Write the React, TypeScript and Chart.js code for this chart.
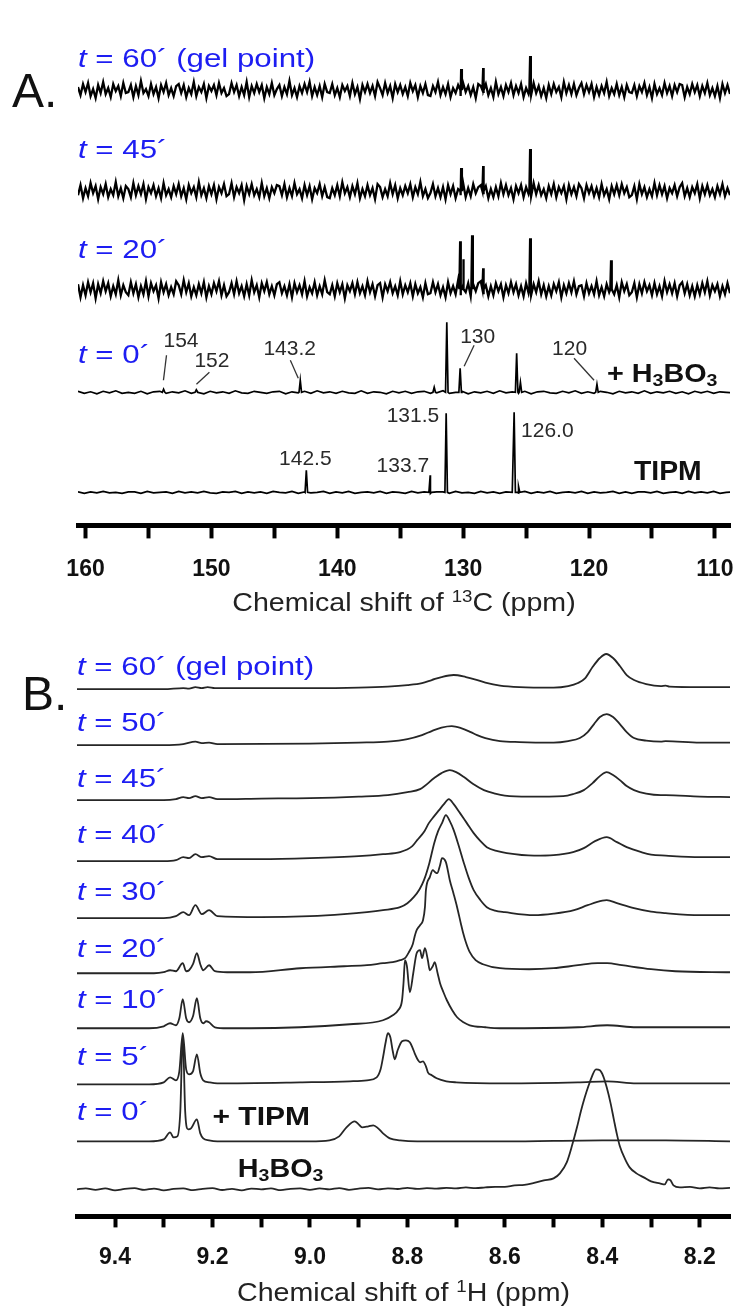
import React, { useEffect, useRef } from 'react';
import { Chart, registerables } from 'chart.js';
Chart.register(...registerables);

const FAM = "'Liberation Sans', Arial, Helvetica, sans-serif";
const BLUE = '#1d1df2';

/* ---------------- Panel A : 13C ---------------- */
const A_MIN = 108.8;
const A_MAX = 160.6;
const A_TICKS = [110, 115, 120, 125, 130, 135, 140, 145, 150, 155, 160];
const A_TICK_LABELS = ['110', '', '120', '', '130', '', '140', '', '150', '', '160'];
const A_DENSE_STEP = 0.2;
const A_LOW_STEP = 0.5;
// stacking offsets of the five traces (t=60, 45, 20, 0, TIPM)
const A_OFFSETS = [435, 334, 236, 133, 33];

const NOISE_60 = [
  3,-5,6,-2,7,-6,1,-8,5,-3,8,-4,2,-7,6,-1,4,-6,7,-3,
  -2,5,-7,4,-5,9,-3,1,-6,6,-4,3,-8,5,-2,7,-5,2,-6,4,
  6,-3,5,-7,2,-4,8,-6,3,-2,6,-8,4,-1,5,-5,7,-3,2,-6,
  -4,7,-2,5,-6,3,-5,8,-7,4,-3,6,-2,5,-8,3,-4,7,-5,1,
  5,-6,3,-4,9,-5,2,-7,4,-3,6,-2,8,-6,3,-5,4,-7,6,-2,
  -3,6,-5,2,-7,5,-1,4,-6,7,-4,3,-9,5,-2,6,-3,4,-6,8,
  2,-5,7,-3,4,-8,6,-2,5,-4,3,-6,7,-1,5,-7,4,-3,6,-5,
  -6,4,-2,8,-5,3,-4,6,-7,2,-3,5,-6,7,-2,4,-5,3,-8,6,
  4,-3,6,-5,2,-7,8,-4,3,-6,5,-2,7,-5,4,-3,6,-7,2,-4,
  -5,7,-3,4,-6,2,-8,5,-4,6,-2,3,-7,8,-3,5,-4,6,-5,2,
  7,-4,5,-2,6,-7,3,-5,4,-3,8,-6,2,-4,6,-5,3,-7,5,-2,
  -3,5,-6,4,-2,7,-5,3,-8,6,-4,2,-5,7,-3,4,-6,5,-2,6,
  5,-7,3,-4,6,-2,5,-6,4,-3,7,-5,2,-6,4,-8,6,-3,5,-4,
];
const NOISE_45 = [
  -4,6,-7,3,-5,8,-2,5,-8,4,-3,7,-6,2,-4,9,-5,3,-7,5,
  2,-6,8,-4,5,-3,7,-8,4,-2,6,-5,3,-7,8,-4,2,-6,5,-3,
  7,-5,3,-8,6,-2,4,-6,9,-4,3,-7,5,-3,6,-8,4,-2,7,-5,
  -3,8,-6,4,-2,6,-9,5,-3,7,-4,2,-6,8,-5,3,-7,4,-2,6,
  5,-4,7,-6,3,-5,8,-3,2,-7,6,-4,5,-8,3,-2,7,-5,4,-6,
  -7,3,-4,6,-5,9,-2,4,-6,5,-3,8,-7,2,-5,6,-4,3,-8,7,
  4,-6,2,-5,8,-3,6,-7,3,-4,5,-2,7,-6,4,-3,9,-5,2,-7,
  -2,7,-5,3,-6,4,-8,6,-3,5,-7,2,-4,8,-6,3,-5,7,-2,4,
  6,-3,5,-7,2,-6,4,-5,8,-3,6,-4,3,-8,5,-2,6,-6,4,-3,
  -5,8,-3,6,-4,2,-7,5,-3,7,-6,4,-2,5,-8,6,-3,4,-5,7,
  3,-7,6,-2,5,-5,3,-6,7,-4,2,-8,5,-3,6,-4,7,-2,4,-6,
  -4,5,-8,7,-3,4,-6,2,-5,8,-4,6,-3,5,-7,3,-2,6,-5,4,
  8,-5,3,-6,4,-2,7,-7,5,-3,6,-4,2,-6,5,-3,7,-5,3,-4,
];
const NOISE_20 = [
  5,-8,4,-6,7,-3,6,-9,5,-4,8,-2,6,-7,3,-5,9,-6,4,-3,
  -6,7,-4,5,-8,3,-5,8,-7,6,-2,4,-9,7,-3,5,-6,2,-5,8,
  4,-5,9,-3,6,-7,2,-6,5,-4,7,-8,3,-5,6,-2,8,-6,4,-7,
  -3,6,-5,8,-4,3,-7,5,-6,9,-3,4,-8,6,-2,7,-5,3,-6,5,
  7,-4,3,-6,5,-8,6,-3,4,-5,8,-7,2,-4,7,-6,3,-5,9,-3,
  -5,4,-7,6,-3,5,-9,4,-2,6,-5,7,-4,3,-6,8,-3,5,-7,4,
  6,-8,5,-2,7,-4,3,-6,8,-5,4,-3,6,-7,5,-4,2,-8,6,-5,
  -4,7,-3,5,-6,2,-8,7,-4,3,-5,9,-6,4,-3,6,-7,5,-2,6,
  8,-5,4,-7,3,-6,6,-2,5,-8,4,-4,7,-3,5,-6,3,-7,6,-4,
  -6,5,-3,8,-5,4,-7,3,-6,5,-2,7,-8,4,-4,6,-3,8,-5,3,
  4,-7,6,-4,3,-5,8,-6,2,-7,5,-3,6,-5,4,-8,7,-2,5,-6,
  -3,6,-8,5,-4,7,-2,4,-6,6,-5,3,-7,8,-3,5,-4,6,-7,4,
  7,-4,5,-6,3,-7,4,-5,6,-3,8,-6,4,-2,5,-7,3,-5,6,-4,
];
const NOISE_0 = [
  1,-1,0.5,-1.5,1,-0.5,1.5,-1,0,-1,1,-1.5,0.5,1,-1,0.5,-0.5,1.5,-1,0.5,
  -1.5,1,-0.5,0.5,-1,1.5,-0.5,-1,1,0,-1,0.5,1,-1.5,0.5,-0.5,1,-1,1.5,-0.5,
  0.5,-1,1,-0.5,-1,1.5,-1,0.5,0,-1.5,1,-0.5,1,-1,0.5,1,-1,-0.5,1.5,-1,
  0,1,-1.5,0.5,-0.5,1,-1,1.5,-0.5,0.5,-1,1,-1.5,0.5,1,-0.5,-1,1,-0.5,1.5,
  -1,0.5,-1,1,0,-1.5,1,-0.5,0.5,-1,1.5,-1,0.5,-0.5,1,-1,0.5,-1.5,1,-0.5,
  1,-1,0.5,0,-0.5,
];
const NOISE_TIPM = [
  0.5,-1,0.5,-0.5,1,-0.5,0,-1,0.5,0.5,-1,1,-0.5,0,0.5,-1,1,-0.5,0.5,-0.5,
  1,-0.5,-1,0.5,0,1,-1,0.5,-0.5,0.5,-1,1,0,-0.5,1,-1,0.5,-0.5,0,1,
  -1,0.5,-0.5,1,-1,0,0.5,-0.5,1,-1,0.5,0,-1,1,-0.5,0.5,-1,0.5,0.5,-1,
  1,-0.5,0,-1,1,-0.5,0.5,-1,0.5,0,-0.5,1,-1,0.5,-0.5,1,-1,0,0.5,-0.5,
  1,-1,0.5,-0.5,0,1,-1,0.5,-1,0.5,0.5,-0.5,1,-1,0,0.5,-1,1,-0.5,0.5,
  -0.5,1,-1,0,0.5,
];
// peaks [ppm, height]
const PEAKS_60 = [[130.16, 21], [128.41, 22], [124.68, 34]];
const PEAKS_45 = [[130.16, 23], [128.41, 25], [124.68, 42]];
const PEAKS_20 = [[130.24, 48], [130.0, 30], [129.29, 54], [128.41, 21], [124.68, 51], [118.25, 29]];
const PEAKS_0 = [[153.8, 3], [151.2, 2.5], [142.94, 12], [132.3, 5], [131.3, 70], [130.24, 24], [125.75, 39], [125.45, 10], [119.37, 8]];
const PEAKS_TIPM = [[142.46, 22], [132.62, 17], [131.35, 79], [125.95, 80], [125.6, 6]];

/* ---------------- Panel B : 1H ---------------- */
const B_MIN = 8.138;
const B_MAX = 9.478;
const B_TICKS = [8.2, 8.3, 8.4, 8.5, 8.6, 8.7, 8.8, 8.9, 9.0, 9.1, 9.2, 9.3, 9.4];
const B_TICK_LABELS = ['8.2', '', '8.4', '', '8.6', '', '8.8', '', '9.0', '', '9.2', '', '9.4'];
// offsets: t=60, 50, 45, 40, 30, 20, 10, 5, 0, H3BO3
const B_OFFSETS = [528, 473, 419, 359, 301, 244, 188, 133, 75, 27];

const T60 = [[9.478,-1],[9.30,-1],[9.26,0],[9.248,-0.5],[9.235,1],[9.222,0],[9.21,1],[9.195,0],[9.0,0],[8.90,0.5],[8.84,1.5],[8.80,3],[8.77,5],[8.75,8],[8.73,11],[8.705,13],[8.68,11],[8.66,8.5],[8.64,5.5],[8.61,2.5],[8.57,1],[8.50,0.5],[8.47,2],[8.45,5],[8.435,10],[8.42,21],[8.405,30],[8.392,34],[8.378,30],[8.364,22],[8.35,13],[8.335,8],[8.31,4],[8.28,2],[8.27,2.5],[8.262,1.5],[8.2,1],[8.138,1]];
const T50 = [[9.478,-2],[9.30,-2],[9.26,-1],[9.235,1.5],[9.222,0],[9.207,0.5],[9.19,-1],[9.0,-0.5],[8.90,0.5],[8.84,1.5],[8.80,4],[8.77,8],[8.75,12],[8.73,15.5],[8.709,17],[8.69,15],[8.67,11],[8.657,8],[8.64,5],[8.61,2],[8.57,1],[8.50,0.5],[8.47,2],[8.446,5],[8.43,11],[8.417,19],[8.405,26],[8.391,29],[8.378,26],[8.364,19],[8.35,11],[8.335,5],[8.31,2.5],[8.28,1.5],[8.27,2],[8.2,0.5],[8.138,0.5]];
const T45 = [[9.478,-3],[9.30,-3],[9.275,-2],[9.26,0],[9.248,-1],[9.235,1],[9.222,-1],[9.207,0],[9.19,-2],[9.1,-1.5],[9.0,-1],[8.90,0.5],[8.84,2],[8.80,5],[8.774,8],[8.745,19],[8.73,24],[8.713,27],[8.70,25],[8.684,20],[8.665,13],[8.643,7],[8.62,3.5],[8.60,1.5],[8.55,0.5],[8.48,1],[8.46,3],[8.438,7],[8.42,14],[8.405,21],[8.391,25],[8.378,22],[8.364,17],[8.35,11],[8.335,7],[8.31,3.5],[8.28,2],[8.27,2],[8.2,0.5],[8.138,0]];
const T40 = [[9.478,-4],[9.30,-4],[9.275,-3],[9.26,0],[9.248,-1],[9.235,3],[9.222,0],[9.207,1],[9.19,-2],[9.1,-2],[9.0,-1],[8.90,1],[8.85,3],[8.815,5],[8.79,11],[8.78,17],[8.765,26],[8.756,34],[8.745,41],[8.735,47],[8.725,53],[8.715,58],[8.705,53],[8.692,44],[8.678,34],[8.664,24],[8.65,16],[8.637,10],[8.615,6],[8.596,4],[8.54,1.5],[8.50,2],[8.46,5],[8.438,9],[8.415,16],[8.391,20],[8.37,15],[8.35,10],[8.32,5],[8.30,2.5],[8.27,1.5],[8.2,0],[8.138,0]];
const T30 = [[9.478,-3],[9.30,-3],[9.275,-1],[9.26,3],[9.248,0],[9.235,10],[9.222,1],[9.207,5],[9.19,-1],[9.1,-2],[9.0,-1],[8.93,1],[8.883,3],[8.85,5],[8.815,8],[8.80,12],[8.787,18],[8.775,26],[8.766,35],[8.755,52],[8.745,72],[8.737,84],[8.729,92],[8.721,100],[8.713,94],[8.705,85],[8.695,70],[8.684,52],[8.674,37],[8.664,25],[8.65,15],[8.637,8],[8.62,4.5],[8.60,3],[8.54,0],[8.50,1.5],[8.458,5],[8.43,10],[8.40,14.5],[8.391,15],[8.37,12],[8.335,7],[8.30,3.5],[8.27,2],[8.2,0],[8.138,0]];
const T20 = [[9.478,-1],[9.32,-1],[9.30,0],[9.287,2],[9.275,1],[9.261,9],[9.254,1],[9.248,2],[9.24,8],[9.232,19],[9.225,8],[9.219,2],[9.207,7],[9.195,1],[9.17,0],[9.123,0],[9.02,4],[8.93,6],[8.883,7],[8.85,9],[8.83,10],[8.815,12],[8.805,14],[8.797,20],[8.789,28],[8.785,36],[8.781,42],[8.774,47],[8.768,52],[8.764,65],[8.762,82],[8.754,95],[8.748,102],[8.743,100],[8.739,99],[8.733,107],[8.729,114],[8.721,110],[8.713,92],[8.705,78],[8.698,65],[8.69,48],[8.686,40],[8.68,30],[8.672,20],[8.66,12],[8.645,8],[8.61,4],[8.55,3],[8.50,4],[8.45,7],[8.41,9],[8.39,9],[8.36,7],[8.30,3],[8.25,1],[8.138,0]];
const T10 = [[9.478,0],[9.33,0],[9.30,2],[9.287,5],[9.275,3],[9.268,10],[9.261,29],[9.254,10],[9.248,6],[9.24,12],[9.232,30],[9.225,10],[9.219,5],[9.213,7],[9.207,6],[9.195,1],[9.17,0],[9.123,0],[8.918,4],[8.85,8],[8.83,13],[8.819,18],[8.811,28],[8.808,45],[8.805,68],[8.801,62],[8.795,36],[8.788,55],[8.781,75],[8.774,78],[8.770,70],[8.764,80],[8.758,68],[8.754,58],[8.748,62],[8.744,66],[8.738,55],[8.733,45],[8.726,36],[8.719,28],[8.708,18],[8.698,11],[8.685,6],[8.672,3],[8.64,1],[8.61,0],[8.45,1],[8.39,3],[8.33,1],[8.138,1]];
const T5 = [[9.478,-1],[9.33,-1],[9.30,1],[9.287,6],[9.275,3],[9.268,12],[9.261,50],[9.254,14],[9.248,9],[9.24,12],[9.232,29],[9.225,10],[9.219,3],[9.207,1],[9.19,0],[9.02,1],[8.918,2],[8.883,3],[8.863,6],[8.855,14],[8.850,26],[8.845,40],[8.840,50],[8.835,46],[8.830,32],[8.826,24],[8.820,33],[8.811,42],[8.803,43],[8.795,41],[8.789,35],[8.785,30],[8.778,23],[8.774,21],[8.768,22],[8.762,17],[8.758,11],[8.750,8],[8.74,5],[8.72,2],[8.70,1],[8.60,0],[8.45,1],[8.39,2],[8.33,0],[8.138,0]];
const T0 = [[9.478,0],[9.33,0],[9.30,2],[9.287,9],[9.280,4],[9.272,5],[9.266,30],[9.261,106],[9.256,30],[9.250,12],[9.244,13],[9.232,22],[9.225,8],[9.219,3],[9.207,1],[9.19,0],[9.0,0],[8.96,1],[8.94,5],[8.925,14],[8.908,20],[8.90,17],[8.893,14],[8.88,15],[8.87,16],[8.86,13],[8.85,8],[8.836,3],[8.815,1],[8.78,0],[8.6,0],[8.4,1],[8.27,1],[8.138,0]];
const H3BO3 = [[9.478,0],[9.46,1],[9.44,-0.5],[9.42,1],[9.40,-1],[9.38,0.5],[9.36,1.2],[9.34,-0.5],[9.32,0.8],[9.30,-1],[9.28,0.5],[9.26,1],[9.24,-0.8],[9.22,0.6],[9.20,1.2],[9.18,-0.6],[9.16,0.5],[9.14,-1],[9.12,0.8],[9.10,0],[9.08,1],[9.06,-0.8],[9.04,0.6],[9.02,1],[9.00,-0.5],[8.98,1],[8.96,0],[8.94,1.3],[8.92,-0.4],[8.90,0.8],[8.88,1.5],[8.86,0],[8.84,1],[8.82,0.4],[8.80,1.5],[8.78,0.5],[8.76,1.2],[8.74,0.8],[8.72,1.5],[8.70,1],[8.68,2],[8.66,1.2],[8.64,2],[8.62,2.5],[8.60,2.5],[8.58,4],[8.56,4.5],[8.54,6.5],[8.52,9],[8.50,11],[8.487,16],[8.473,27],[8.462,44],[8.452,62],[8.444,78],[8.436,92],[8.428,104],[8.422,112],[8.413,120],[8.405,119],[8.398,113],[8.391,102],[8.383,86],[8.376,69],[8.37,55],[8.364,43],[8.354,31],[8.344,22],[8.33,16],[8.315,12],[8.30,8],[8.282,6],[8.272,5],[8.265,10],[8.260,9],[8.254,4],[8.241,2],[8.22,2.5],[8.20,1],[8.18,2],[8.16,1],[8.138,1.5]];

/* ---------------- helpers ---------------- */
type Pt = { x: number; y: number };
function sampled(start: number, step: number, values: number[], base: number): Pt[] {
  return values.map((v, i) => ({ x: +(start - i * step).toFixed(3), y: base + v }));
}
function withSpikes(pts: Pt[], peaks: number[][], base: number, d: number): Pt[] {
  const out = pts.slice();
  for (const [p, h] of peaks) out.push({ x: p + d, y: base }, { x: p, y: base + h }, { x: p - d, y: base });
  return out.sort((a, b) => b.x - a.x);
}
function listed(tr: number[][], base: number): Pt[] {
  return tr.map(([x, v]) => ({ x, y: base + v }));
}

type Part = { t: string; i?: boolean; b?: boolean; sub?: boolean; sup?: boolean };
type Txt = { x: number; y: number; xPx?: boolean; yPx?: boolean; parts: Part[]; size: number; color: string; sx?: number; align?: 'left' | 'right' | 'center'; bold?: boolean };

function drawRich(ctx: CanvasRenderingContext2D, X: number, Y: number, a: Txt) {
  const font = (p: Part) => {
    const sz = p.sub || p.sup ? Math.round(a.size * 0.66) : a.size;
    return `${p.i ? 'italic ' : ''}${p.b || a.bold ? 'bold ' : ''}${sz}px ${FAM}`;
  };
  const widths = a.parts.map((p) => { ctx.font = font(p); return ctx.measureText(p.t).width; });
  const total = widths.reduce((s, w) => s + w, 0);
  const sx = a.sx ?? 1;
  const x0 = a.align === 'right' ? X - total * sx : a.align === 'center' ? X - (total * sx) / 2 : X;
  ctx.save();
  ctx.translate(x0, Y);
  ctx.scale(sx, 1);
  ctx.fillStyle = a.color;
  ctx.textAlign = 'left';
  ctx.textBaseline = 'alphabetic';
  let cx = 0;
  a.parts.forEach((p, k) => {
    ctx.font = font(p);
    const dy = p.sub ? a.size * 0.16 : p.sup ? -a.size * 0.36 : 0;
    ctx.fillText(p.t, cx, dy);
    cx += widths[k];
  });
  ctx.restore();
}

function annPlugin(id: string, texts: Txt[], segs: number[][]) {
  return {
    id,
    afterDraw(chart: any) {
      const { ctx } = chart;
      const xs = chart.scales.x;
      const ys = chart.scales.y;
      ctx.save();
      ctx.strokeStyle = '#333';
      ctx.lineWidth = 1.3;
      for (const [x1, y1, x2, y2] of segs) {
        ctx.beginPath();
        ctx.moveTo(xs.getPixelForValue(x1), ys.getPixelForValue(y1));
        ctx.lineTo(xs.getPixelForValue(x2), ys.getPixelForValue(y2));
        ctx.stroke();
      }
      for (const t of texts) {
        const X = t.xPx ? t.x : xs.getPixelForValue(t.x);
        const Y = t.yPx ? t.y : ys.getPixelForValue(t.y);
        drawRich(ctx, X, Y, t);
      }
      ctx.restore();
    },
  };
}

const tLabel = (x: number, y: number, rest: string): Txt => ({
  x, y, size: 25, color: BLUE, sx: 1.25, parts: [{ t: 't', i: true }, { t: rest }],
});

const A_TEXTS: Txt[] = [
  { x: 12, y: 107, xPx: true, yPx: true, size: 48, color: '#111', parts: [{ t: 'A.' }] },
  tLabel(A_MAX, 458, ' = 60´ (gel point)'),
  tLabel(A_MAX, 367, ' = 45´'),
  tLabel(A_MAX, 267, ' = 20´'),
  tLabel(A_MAX, 162, ' = 0´'),
  { x: 153.81, y: 178, size: 21, color: '#2a2a2a', parts: [{ t: '154' }] },
  { x: 151.35, y: 158, size: 21, color: '#2a2a2a', parts: [{ t: '152' }] },
  { x: 145.87, y: 170, size: 21, color: '#2a2a2a', parts: [{ t: '143.2' }] },
  { x: 130.24, y: 182, size: 21, color: '#2a2a2a', parts: [{ t: '130' }] },
  { x: 122.94, y: 170, size: 21, color: '#2a2a2a', parts: [{ t: '120' }] },
  { x: 118.57, y: 143, size: 25, color: '#111', bold: true, sx: 1.15, parts: [{ t: '+ H' }, { t: '3', sub: true }, { t: 'BO' }, { t: '3', sub: true }] },
  { x: 131.9, y: 103, size: 21, color: '#2a2a2a', align: 'right', parts: [{ t: '131.5' }] },
  { x: 132.7, y: 53, size: 21, color: '#2a2a2a', align: 'right', parts: [{ t: '133.7' }] },
  { x: 125.4, y: 88, size: 21, color: '#2a2a2a', parts: [{ t: '126.0' }] },
  { x: 142.54, y: 60, size: 21, color: '#2a2a2a', align: 'center', parts: [{ t: '142.5' }] },
  { x: 116.43, y: 45, size: 27, color: '#111', bold: true, sx: 1.05, parts: [{ t: 'TIPM' }] },
  { x: (A_MIN + A_MAX) / 2, y: 611, yPx: true, size: 26, color: '#222', sx: 1.1, align: 'center', parts: [{ t: 'Chemical shift of ' }, { t: '13', sup: true }, { t: 'C (ppm)' }] },
];
const A_SEGS = [
  [153.57, 170, 153.81, 145],
  [150.16, 153, 151.19, 141],
  [143.73, 165, 143.10, 147],
  [129.13, 180, 129.92, 159],
  [121.19, 167, 119.6, 145],
];

const B_TEXTS: Txt[] = [
  { x: 22, y: 90, xPx: true, yPx: true, size: 48, color: '#111', parts: [{ t: 'B.' }] },
  tLabel(B_MAX, 541, ' = 60´ (gel point)'),
  tLabel(B_MAX, 485, ' = 50´'),
  tLabel(B_MAX, 429, ' = 45´'),
  tLabel(B_MAX, 373, ' = 40´'),
  tLabel(B_MAX, 316, ' = 30´'),
  tLabel(B_MAX, 259, ' = 20´'),
  tLabel(B_MAX, 208, ' = 10´'),
  tLabel(B_MAX, 151, ' = 5´'),
  tLabel(B_MAX, 96, ' = 0´'),
  { x: 9.2, y: 91, size: 25, color: '#111', bold: true, sx: 1.2, parts: [{ t: '+ TIPM' }] },
  { x: 9.148, y: 39, size: 25, color: '#111', bold: true, sx: 1.15, parts: [{ t: 'H' }, { t: '3', sub: true }, { t: 'BO' }, { t: '3', sub: true }] },
  { x: (B_MIN + B_MAX) / 2, y: 681, yPx: true, size: 26, color: '#222', sx: 1.1, align: 'center', parts: [{ t: 'Chemical shift of ' }, { t: '1', sup: true }, { t: 'H (ppm)' }] },
];

function lineDs(data: Pt[], w: number, color: string, smooth: boolean) {
  return {
    data, borderColor: color, borderWidth: w, pointRadius: 0, fill: false,
    tension: 0, cubicInterpolationMode: smooth ? 'monotone' : 'default',
  };
}

function axisX(min: number, max: number, ticks: number[], labels: string[], tl: number, pad: number) {
  return {
    type: 'linear', min, max, reverse: true,
    afterBuildTicks: (s: any) => { s.ticks = ticks.map((v) => ({ value: v })); },
    ticks: {
      autoSkip: false, maxRotation: 0, minRotation: 0, padding: pad, color: '#111',
      font: { family: FAM, size: 23, weight: 'bold' },
      callback: (_v: any, i: number) => labels[i],
    },
    grid: { drawOnChartArea: false, drawTicks: true, tickLength: tl, tickWidth: 4, tickColor: '#000' },
    border: { display: true, width: 5, color: '#000' },
  };
}

export default function App() {
  const refA = useRef<HTMLCanvasElement>(null);
  const refB = useRef<HTMLCanvasElement>(null);

  useEffect(() => {
    document.body.style.margin = '0';
    const aSets = [
      withSpikes(sampled(A_MAX, A_DENSE_STEP, NOISE_60, A_OFFSETS[0]), PEAKS_60, A_OFFSETS[0], 0.06),
      withSpikes(sampled(A_MAX, A_DENSE_STEP, NOISE_45, A_OFFSETS[1]), PEAKS_45, A_OFFSETS[1], 0.06),
      withSpikes(sampled(A_MAX, A_DENSE_STEP, NOISE_20, A_OFFSETS[2]), PEAKS_20, A_OFFSETS[2], 0.06),
      withSpikes(sampled(A_MAX, A_LOW_STEP, NOISE_0, A_OFFSETS[3]), PEAKS_0, A_OFFSETS[3], 0.1),
      withSpikes(sampled(A_MAX, A_LOW_STEP, NOISE_TIPM, A_OFFSETS[4]), PEAKS_TIPM, A_OFFSETS[4], 0.1),
    ];
    const chartA = new Chart(refA.current as HTMLCanvasElement, {
      type: 'line',
      data: {
        datasets: aSets.map((d, k) => lineDs(d, k < 3 ? 2.3 : 1.7, '#000', false)) as any,
      },
      options: {
        responsive: false, animation: false, devicePixelRatio: 1, events: [],
        layout: { padding: { left: 78, right: 5, top: 20, bottom: 20 } },
        plugins: { legend: { display: false }, tooltip: { enabled: false } },
        scales: {
          x: axisX(A_MIN, A_MAX, A_TICKS, A_TICK_LABELS, 13, 17) as any,
          y: { display: false, min: 0, max: 505 },
        },
      },
      plugins: [annPlugin('annA', A_TEXTS, A_SEGS)],
    });

    const bTraces = [T60, T50, T45, T40, T30, T20, T10, T5, T0, H3BO3];
    const chartB = new Chart(refB.current as HTMLCanvasElement, {
      type: 'line',
      data: {
        datasets: bTraces.map((tr, k) => lineDs(listed(tr, B_OFFSETS[k]), 1.8, '#262626', true)) as any,
      },
      options: {
        responsive: false, animation: false, devicePixelRatio: 1, events: [],
        layout: { padding: { left: 77, right: 5, top: 20, bottom: 23 } },
        plugins: { legend: { display: false }, tooltip: { enabled: false } },
        scales: {
          x: axisX(B_MIN, B_MAX, B_TICKS, B_TICK_LABELS, 11, 16) as any,
          y: { display: false, min: 0, max: 576 },
        },
      },
      plugins: [annPlugin('annB', B_TEXTS, [])],
    });
    return () => { chartA.destroy(); chartB.destroy(); };
  }, []);

  return (
    <div style={{ position: 'relative', width: 735, height: 1310, background: '#fff' }}>
      <canvas ref={refA} width={735} height={620} style={{ position: 'absolute', left: 0, top: 0 }} />
      <canvas ref={refB} width={735} height={690} style={{ position: 'absolute', left: 0, top: 620 }} />
    </div>
  );
}
